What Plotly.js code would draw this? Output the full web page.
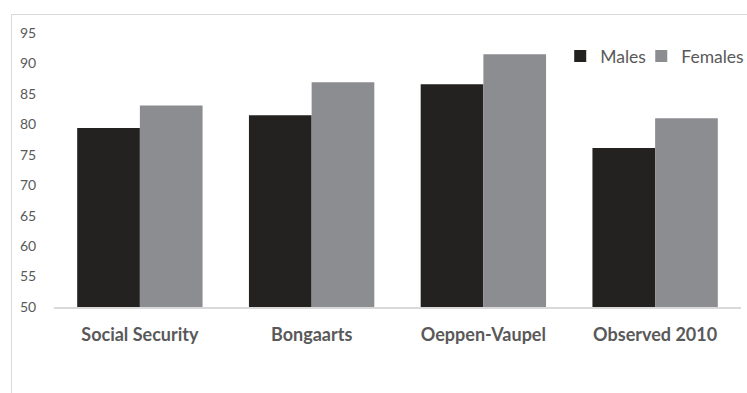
<!DOCTYPE html>
<html>
<head>
<meta charset="utf-8">
<script src="https://cdn.plot.ly/plotly-3.0.1.min.js"></script>
<style>
html,body{margin:0;padding:0;background:#fff;overflow:hidden;}
#wrap{position:relative;width:747px;height:393px;overflow:hidden;}
#chart{position:absolute;left:0;top:0;width:747px;height:393px;}
#frame{position:absolute;left:11px;top:14px;width:740px;height:385px;border-left:1px solid #d9d9d9;border-top:1px solid #d9d9d9;pointer-events:none;}
</style>
</head>
<body>
<div id="wrap">
<div id="chart"></div>
<div id="frame"></div>
</div>
<script>
const categories = ["Social Security", "Bongaarts", "Oeppen-Vaupel", "Observed 2010"];
const males = [79.4, 81.5, 86.6, 76.1];
const females = [83.1, 86.9, 91.5, 81.0];
const yTicks = [50, 55, 60, 65, 70, 75, 80, 85, 90, 95];

const data = [
  {type: "bar", name: "Males", x: categories, y: males, legend: "legend",
   marker: {color: "#232220", line: {width: 0}}, hoverinfo: "none"},
  {type: "bar", name: "Females", x: categories, y: females, legend: "legend2",
   marker: {color: "#8c8d90", line: {width: 0}}, hoverinfo: "none"}
];

const legendFont = {family: "Lato, 'Open Sans', sans-serif", size: 17.5, color: "#595959"};
const legendY = 1 - (56 - 33) / 274;

const layout = {
  width: 747, height: 393,
  margin: {l: 54, r: 6, t: 33, b: 86, autoexpand: false},
  paper_bgcolor: "#ffffff", plot_bgcolor: "#ffffff",
  barmode: "group", bargap: 0.27, bargroupgap: 0,
  font: {family: "Lato, 'Open Sans', sans-serif", color: "#595959"},
  xaxis: {
    type: "category", showgrid: false, zeroline: false, automargin: false,
    showline: true, linecolor: "#d9d9d9", linewidth: 2,
    ticks: "outside", ticklen: 10, tickcolor: "rgba(0,0,0,0)",
    tickfont: {family: "Lato, 'Open Sans', sans-serif", size: 18, color: "#595959", weight: "bold"}
  },
  yaxis: {
    range: [50, 95], tickvals: yTicks, ticktext: yTicks.map(String), automargin: false,
    showgrid: false, zeroline: false, showline: false,
    ticks: "outside", ticklen: 14, tickcolor: "rgba(0,0,0,0)",
    tickfont: {family: "Lato, 'Open Sans', sans-serif", size: 14, color: "#595959"}
  },
  showlegend: true,
  legend: {
    orientation: "h", xanchor: "left", yanchor: "middle",
    x: (560 - 54) / 686.7, y: legendY,
    font: legendFont, bgcolor: "rgba(0,0,0,0)", itemwidth: 30
  },
  legend2: {
    orientation: "h", xanchor: "left", yanchor: "middle",
    x: (641 - 54) / 686.7, y: legendY,
    font: legendFont, bgcolor: "rgba(0,0,0,0)", itemwidth: 30
  }
};

Plotly.newPlot("chart", data, layout, {staticPlot: true});
</script>
</body>
</html>
